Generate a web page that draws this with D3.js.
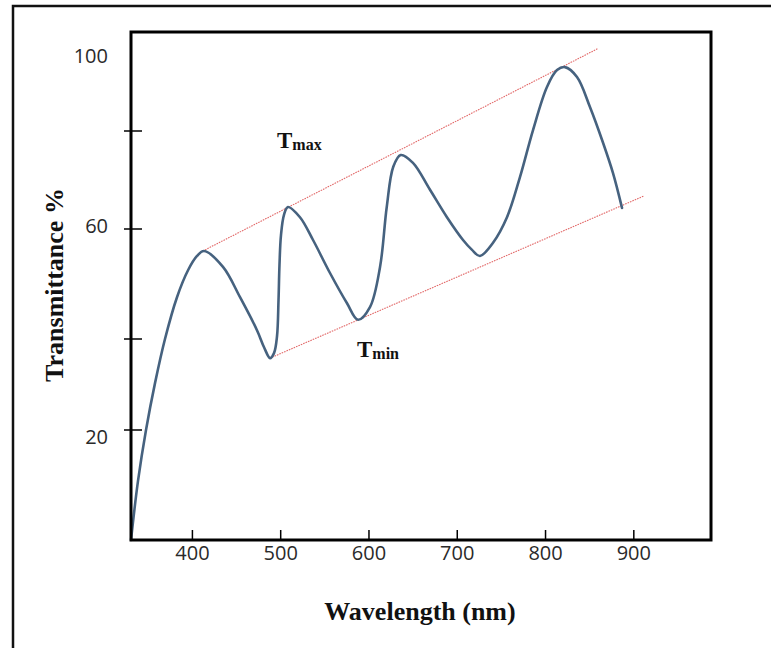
<!DOCTYPE html>
<html>
<head>
<meta charset="utf-8">
<script src="https://cdn.jsdelivr.net/npm/d3@7/dist/d3.min.js"></script>
<style>
  html, body { margin: 0; padding: 0; background: #fff; }
  svg { display: block; }
</style>
</head>
<body>
<svg id="chart" width="771" height="648"></svg>
<script>
// ---------- data ----------
const wavelength = [331.0, 338.9, 348.0, 358.2, 369.5, 383.1, 395.6, 405.8, 413.7,
  435.2, 454.5, 473.7, 481.7, 488.5,
  493.0, 496.4, 498.1, 499.2, 500.9, 504.3, 508.8,
  522.4, 537.2, 556.4, 575.7, 588.1,
  601.7, 613.1, 620.7, 628.1, 636.5,
  650.4, 669.7, 688.9, 707.1, 717.3, 726.3,
  741.1, 756.9, 771.6, 786.4, 802.2, 813.6, 822.6,
  836.2, 851.0, 865.7, 877.0, 887.2];
const transmittance = [0.0, 10.7, 20.0, 30.3, 40.0, 47.6, 52.5, 55.1, 56.0,
  53.1, 47.6, 41.6, 38.2, 35.8,
  36.9, 40.5, 47.1, 53.5, 58.9, 62.9, 64.5,
  62.4, 58.0, 52.0, 46.5, 43.5,
  45.8, 53.1, 64.5, 72.7, 75.1,
  73.5, 68.0, 62.4, 58.0, 56.2, 55.1,
  57.5, 62.4, 70.6, 80.2, 88.9, 92.3, 92.9,
  90.9, 84.8, 77.6, 71.4, 64.3];

const upperEnvNm = [414.8, 859.3];
const upperEnvT  = [56.2, 96.6];
const lowerEnvNm = [490.9, 911.5];
const lowerEnvT  = [36.0, 66.7];

const xTickValues = [400, 500, 600, 700, 800, 900];
const yTickValues = [20, 40, 60, 80];
const yLabelValues = [100, 60, 20];
const yLabelTexts = ["100", "60", "20"];

const envLabels = [
  { main: "T", sub: "max", nm: 496.4, T: 76.5 },
  { main: "T", sub: "min", nm: 587.0, T: 36.0 }
];

const xTitle = "Wavelength (nm)";
const yTitle = "Transmittance %";

// ---------- layout ----------
const plot = { left: 131, right: 711, top: 32, bottom: 540 };

const svg = d3.select("#chart");

const x = d3.scaleLinear().domain([331, 988]).range([plot.left, plot.right]);
// hand-drawn axis: tick spacing is slightly irregular
const y = d3.scaleLinear()
  .domain([0, 20, 40, 60, 80, 100])
  .range([plot.bottom, 430, 339, 229, 131, plot.top]);

// outer frame (cut off at right/bottom in the reference)
svg.append("rect")
  .attr("x", 13).attr("y", 6)
  .attr("width", 900).attr("height", 800)
  .attr("fill", "none").attr("stroke", "#111").attr("stroke-width", 2.5);

// envelopes
const straight = d3.line().x(d => x(d[0])).y(d => y(d[1]));
const envStyle = sel => sel.attr("fill", "none")
  .attr("stroke", "#e26868").attr("stroke-width", 1.1)
  .attr("stroke-dasharray", "1.6 1");
svg.append("path")
  .attr("d", straight(upperEnvNm.map((v, i) => [v, upperEnvT[i]])))
  .call(envStyle);
svg.append("path")
  .attr("d", straight(lowerEnvNm.map((v, i) => [v, lowerEnvT[i]])))
  .call(envStyle);

// spectrum curve
const curve = d3.line()
  .x(d => x(d[0])).y(d => y(d[1]))
  .curve(d3.curveCatmullRom.alpha(0.5));
svg.append("path")
  .attr("d", curve(wavelength.map((v, i) => [v, transmittance[i]])))
  .attr("fill", "none")
  .attr("stroke", "#46627f")
  .attr("stroke-width", 2.6)
  .attr("stroke-linejoin", "round")
  .attr("stroke-linecap", "round");

// axis box
svg.append("rect")
  .attr("x", plot.left).attr("y", plot.top)
  .attr("width", plot.right - plot.left).attr("height", plot.bottom - plot.top)
  .attr("fill", "none").attr("stroke", "#000").attr("stroke-width", 3);

// x ticks (inward) and labels
const xAxis = d3.axisBottom(x).tickValues(xTickValues).tickSizeInner(-10).tickSizeOuter(0).tickPadding(6);
const gx = svg.append("g").attr("transform", `translate(0,${plot.bottom})`).call(xAxis);
gx.select(".domain").remove();
gx.selectAll(".tick line").attr("stroke", "#000").attr("stroke-width", 1.5);
gx.selectAll(".tick text")
  .attr("font-family", "'Open Sans', 'Noto Sans', sans-serif")
  .attr("font-size", 20).attr("fill", "#2a2a2a");

// y ticks (crossing the axis)
const gy = svg.append("g");
gy.selectAll("line").data(yTickValues).join("line")
  .attr("x1", plot.left - 7).attr("x2", plot.left + 11)
  .attr("y1", d => y(d)).attr("y2", d => y(d))
  .attr("stroke", "#000").attr("stroke-width", 1.5);
gy.selectAll("text").data(yLabelValues).join("text")
  .attr("x", 108)
  .attr("y", d => y(d) + (d === 100 ? 24 : (d === 20 ? 7 : -3)))
  .attr("dy", "0.35em")
  .attr("text-anchor", "end")
  .attr("font-family", "'Open Sans', 'Noto Sans', sans-serif")
  .attr("font-size", 20).attr("fill", "#2a2a2a")
  .text((d, i) => yLabelTexts[i]);

// axis titles
svg.append("text")
  .attr("x", 420).attr("y", 620)
  .attr("text-anchor", "middle")
  .attr("font-family", "'Liberation Serif', 'Times New Roman', serif")
  .attr("font-weight", "bold").attr("font-size", 26).attr("fill", "#111")
  .text(xTitle);
svg.append("text")
  .attr("transform", "translate(63,285) rotate(-90)")
  .attr("text-anchor", "middle")
  .attr("font-family", "'Liberation Serif', 'Times New Roman', serif")
  .attr("font-weight", "bold").attr("font-size", 26).attr("fill", "#111")
  .text(yTitle);

// T_max / T_min labels
envLabels.forEach(l => {
  const t = svg.append("text")
    .attr("x", x(l.nm)).attr("y", y(l.T))
    .attr("font-family", "'Liberation Serif', 'Times New Roman', serif")
    .attr("font-weight", "bold").attr("fill", "#111");
  t.append("tspan").attr("font-size", 23).text(l.main);
  t.append("tspan").attr("font-size", 16).attr("dy", 2).text(l.sub);
});
</script>
</body>
</html>
